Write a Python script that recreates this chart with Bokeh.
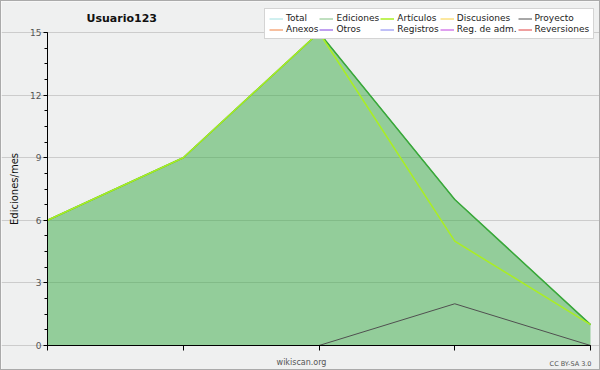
from bokeh.plotting import figure
from bokeh.models import (Range1d, FixedTicker, Label, Legend, LegendItem,
                          ColumnDataSource)
from bokeh.embed import file_html
from bokeh.resources import INLINE

# ---- data ----
months = [0, 1, 2, 3, 4]
total = [6, 9, 15, 7, 1]
ediciones = [6, 9, 15, 7, 1]
articulos = [6, 9, 15, 5, 1]
discusiones = [0, 0, 0, 0, 0]
proyecto = [0, 0, 0, 2, 0]
anexos = [0, 0, 0, 0, 0]
otros = [0, 0, 0, 0, 0]
registros = [0, 0, 0, 0, 0]
reg_adm = [0, 0, 0, 0, 0]
reversiones = [0, 0, 0, 0, 0]
y_ticks = [0, 3, 6, 9, 12, 15]
title_text = "Usuario123"
y_label = "Ediciones/mes"

FONT = "DejaVu Sans"
W, H = 600, 370
# plot area in pixels (left, right, top, bottom from top-left)
PL, PR, PT, PB = 46, 589, 31, 344
xmin, xmax = months[0], months[-1]
ymin, ymax = 0, 15
sx = (PR - PL) / (xmax - xmin)
sy = (PB - PT) / (ymax - ymin)

p = figure(width=W, height=H, output_backend="svg", toolbar_location=None,
           x_range=Range1d(xmin - PL / sx, xmax + (W - PR) / sx),
           y_range=Range1d(ymin - (H - PB) / sy, ymax + PT / sy),
           min_border=0)
p.background_fill_color = "#eff0f0"
p.border_fill_color = "#eff0f0"
p.outline_line_color = None

# axes (fixed at the data origin)
p.xaxis.fixed_location = xmin
p.xaxis.bounds = (xmin, xmax)
p.xaxis.ticker = FixedTicker(ticks=months)
p.xaxis.major_label_text_color = None
p.xaxis.major_tick_out = 5
p.xaxis.major_tick_in = 0
p.xaxis.minor_tick_line_color = None
p.xaxis.axis_line_color = "black"
p.xaxis.major_tick_line_color = "black"

p.yaxis.fixed_location = xmin
p.yaxis.bounds = (ymin, ymax)
p.yaxis.ticker = FixedTicker(ticks=y_ticks,
                             minor_ticks=[i * 0.75 for i in range(21)])
p.yaxis.major_tick_out = 4
p.yaxis.major_tick_in = 0
p.yaxis.minor_tick_out = 3
p.yaxis.minor_tick_in = 0
p.yaxis.axis_line_color = "black"
p.yaxis.major_tick_line_color = "black"
p.yaxis.minor_tick_line_color = "black"
p.yaxis.major_label_text_font = FONT
p.yaxis.major_label_text_font_size = "9px"
p.yaxis.major_label_text_color = "#555555"
p.yaxis.major_label_standoff = 2
p.yaxis.axis_label = y_label
p.yaxis.axis_label_text_font = FONT
p.yaxis.axis_label_text_font_size = "10px"
p.yaxis.axis_label_text_font_style = "normal"
p.yaxis.axis_label_text_color = "#111111"
p.yaxis.axis_label_standoff = 7

p.xgrid.grid_line_color = None
p.ygrid.ticker = FixedTicker(ticks=y_ticks)
p.ygrid.bounds = (xmin, xmax)
p.ygrid.grid_line_color = "#cccccc"

src = ColumnDataSource(dict(x=months, total=total, ed=ediciones, art=articulos,
                            dis=discusiones, pro=proyecto, anx=anexos,
                            otr=otros, reg=registros, rad=reg_adm,
                            rev=reversiones))

r_total = p.line("x", "total", source=src, color="#a0e0e0", line_width=1)
r_ed = p.line("x", "ed", source=src, color="#80c080", line_width=1)
p.varea(x="x", y1=0, y2="ed", source=src, fill_color="#38a944", fill_alpha=0.5)
p.line("x", "ed", source=src, color="#3aa83a", line_width=1.5)
r_art = p.line("x", "art", source=src, color="#aaee22", line_width=1.5)
r_dis = p.line("x", "dis", source=src, color="#f8d040", line_width=1)
r_anx = p.line("x", "anx", source=src, color="#f08040", line_width=1)
r_otr = p.line("x", "otr", source=src, color="#8040e0", line_width=1)
r_reg = p.line("x", "reg", source=src, color="#8080f0", line_width=1)
r_rad = p.line("x", "rad", source=src, color="#c040e0", line_width=1)
r_rev = p.line("x", "rev", source=src, color="#e04040", line_width=1)
r_pro = p.line("x", "pro", source=src, color="#505050", line_width=1)

items = [
    LegendItem(label="Total", renderers=[r_total]),
    LegendItem(label="Ediciones", renderers=[r_ed]),
    LegendItem(label="Artículos", renderers=[r_art]),
    LegendItem(label="Discusiones", renderers=[r_dis]),
    LegendItem(label="Proyecto", renderers=[r_pro]),
    LegendItem(label="Anexos", renderers=[r_anx]),
    LegendItem(label="Otros", renderers=[r_otr]),
    LegendItem(label="Registros", renderers=[r_reg]),
    LegendItem(label="Reg. de adm.", renderers=[r_rad]),
    LegendItem(label="Reversiones", renderers=[r_rev]),
]
legend = Legend(items=items, orientation="horizontal", ncols=5,
                location=(263, H - 38), label_text_font=FONT,
                label_text_font_size="9px", label_text_color="#222222",
                label_height=9, label_standoff=3, glyph_width=14,
                glyph_height=9, spacing=1, padding=4, margin=0,
                background_fill_color="white", background_fill_alpha=1,
                border_line_color="#aaaaaa", border_line_width=1)
p.add_layout(legend, "center")

p.add_layout(Label(x=85, y=H - 17, x_units="screen", y_units="screen",
                   text=title_text, text_font=FONT, text_font_size="11px",
                   text_font_style="bold", text_color="#111111",
                   text_baseline="middle"))
p.add_layout(Label(x=300, y=H - 361, x_units="screen", y_units="screen",
                   text="wikiscan.org", text_font=FONT, text_font_size="8px",
                   text_color="#555555", text_align="center",
                   text_baseline="middle"))
p.add_layout(Label(x=590, y=H - 362, x_units="screen", y_units="screen",
                   text="CC BY-SA 3.0", text_font=FONT, text_font_size="6.5px",
                   text_color="#555555", text_align="right",
                   text_baseline="middle"))

p.styles = {"border": "1px solid #aaaaaa", "box-sizing": "border-box"}

open("out.html", "w").write(file_html(p, INLINE))
